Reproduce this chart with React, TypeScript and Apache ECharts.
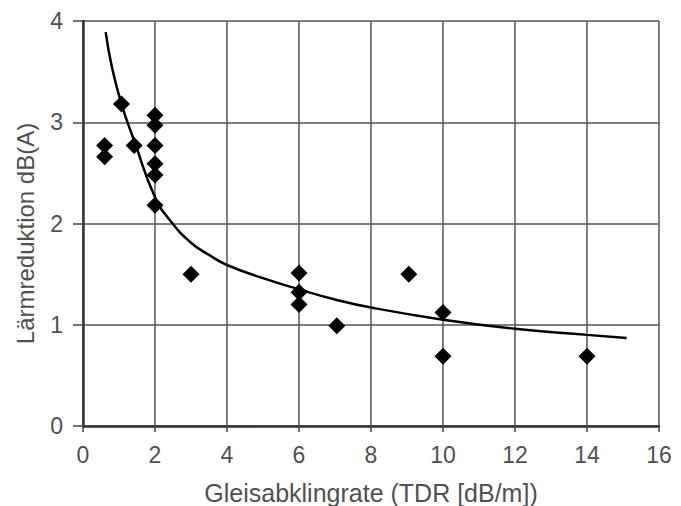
import React, { useEffect, useRef } from "react";
import * as echarts from "echarts";

const tdr = [0.6, 0.6, 1.07, 1.42, 2, 2, 2, 2, 2, 2, 3, 6, 6, 6, 7.05, 9.05, 10, 10, 14];
const reduction = [2.77, 2.66, 3.18, 2.77, 3.07, 2.97, 2.77, 2.59, 2.48, 2.18, 1.5, 1.51, 1.32, 1.2, 0.99, 1.5, 1.12, 0.69, 0.69];

const curveX = [0.63, 0.8, 1.07, 1.42, 2, 2.42, 3, 3.5, 4, 5, 6, 7, 8, 10, 12, 14, 15.1];
const curveY = [3.89, 3.55, 3.18, 2.82, 2.26, 2.03, 1.81, 1.69, 1.59, 1.46, 1.35, 1.25, 1.17, 1.05, 0.96, 0.9, 0.87];

const xTicks = [0, 2, 4, 6, 8, 10, 12, 14, 16];
const yTicks = [0, 1, 2, 3, 4];

export default function App() {
  const ref = useRef<HTMLDivElement>(null);
  useEffect(() => {
    if (!ref.current) return;
    const chart = echarts.init(ref.current, null, { renderer: "svg" });
    const font = "'Liberation Sans', Arial, sans-serif";
    chart.setOption({
      animation: false,
      backgroundColor: "#ffffff",
      grid: { left: 83, right: 22, top: 21, bottom: 80, containLabel: false, outerBoundsMode: "none" },
      xAxis: {
        type: "value",
        min: xTicks[0],
        max: xTicks[xTicks.length - 1],
        interval: 2,
        name: "Gleisabklingrate (TDR [dB/m])",
        nameLocation: "middle",
        nameGap: 54,
        nameTextStyle: { color: "#505050", fontSize: 25, fontFamily: font },
        axisLine: { show: true, lineStyle: { color: "#333", width: 2.5 } },
        axisTick: { show: true, inside: false, length: 6, lineStyle: { color: "#444", width: 1.5 } },
        axisLabel: { color: "#505050", fontSize: 23, fontFamily: font, margin: 17 },
        splitLine: { show: true, lineStyle: { color: "#555", width: 1.5 } },
      },
      yAxis: {
        type: "value",
        min: yTicks[0],
        max: yTicks[yTicks.length - 1],
        interval: 1,
        name: "Lärmreduktion dB(A)",
        nameLocation: "middle",
        nameGap: 46,
        nameTextStyle: { color: "#505050", fontSize: 24, fontFamily: font, padding: [0, 20, 0, 0] },
        axisLine: { show: true, lineStyle: { color: "#333", width: 2.5 } },
        axisTick: { show: true, inside: false, length: 10, lineStyle: { color: "#444", width: 1.5 } },
        axisLabel: { color: "#505050", fontSize: 23, fontFamily: font, margin: 20 },
        splitLine: { show: true, lineStyle: { color: "#555", width: 1.5 } },
      },
      series: [
        {
          type: "line",
          data: curveX.map((x, i) => [x, curveY[i]]),
          smooth: 0.5,
          showSymbol: false,
          symbol: "none",
          lineStyle: { color: "#000", width: 2.5 },
          z: 3,
        },
        {
          type: "scatter",
          data: tdr.map((x, i) => [x, reduction[i]]),
          symbol: "diamond",
          symbolSize: [17, 17],
          itemStyle: { color: "#000", opacity: 1 },
          z: 4,
        },
      ],
    });
    return () => chart.dispose();
  }, []);
  return <div ref={ref} style={{ width: 681, height: 506, position: "absolute", left: 0, top: 0 }} />;
}
